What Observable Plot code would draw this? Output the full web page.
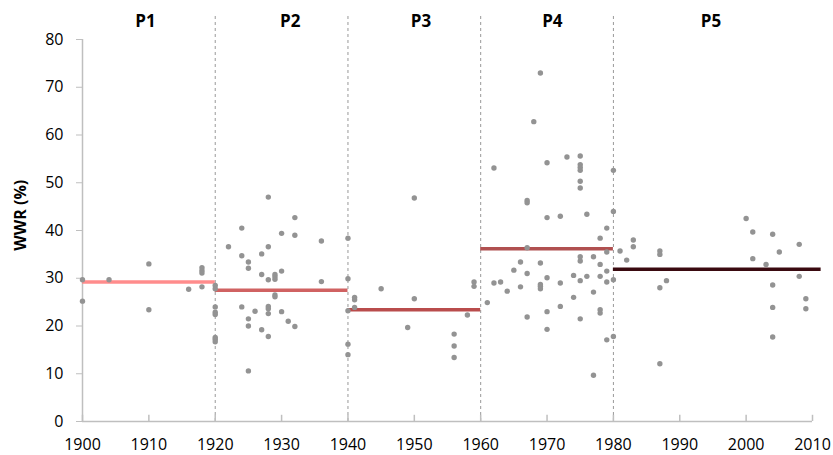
<!DOCTYPE html>
<html>
<head>
<meta charset="utf-8">
<script src="https://cdn.jsdelivr.net/npm/d3@7"></script>
<script src="https://cdn.jsdelivr.net/npm/@observablehq/plot@0.6"></script>
<style>
  body { margin: 0; background: #fff; }
  svg { font-family: "Open Sans", sans-serif; }
</style>
</head>
<body>
<div id="chart"></div>
<script>
// Observations: year and window-to-wall ratio (%)
const years = [
  1900,1900,1904,1910,1910,1916,1918,1918,1918,1918,
  1920,1920,1920,1920,1920,1920,1920,1920,
  1922,1924,1924,1924,1925,1925,1925,1925,1925,1926,1927,1927,1927,
  1928,1928,1928,1928,1928,1928,1928,1929,1929,1929,1929,1929,
  1930,1930,1930,1931,1932,1932,1932,1936,1936,
  1940,1940,1940,1940,1940,
  1941,1941,1941,1945,1949,1950,1950,1956,1956,1956,1958,1959,1959,
  1961,1962,1962,1963,1964,1965,1966,1966,1967,1967,1967,1967,1967,
  1968,1969,1969,1969,1969,1969,1970,1970,1970,1970,1970,
  1972,1972,1972,1973,1974,1974,
  1975,1975,1975,1975,1975,1975,1975,1975,1975,1975,
  1976,1976,1977,1977,1977,1978,1978,1978,1978,1978,
  1979,1979,1979,1979,1979,1980,1980,1980,1980,
  1981,1982,1983,1983,1987,1987,1987,1987,1988,
  2000,2001,2001,2003,2004,2004,2004,2004,2005,2008,2008,2009,2009
];
const wwr = [
  29.7,25.2,29.7,33.0,23.4,27.7,32.2,31.6,31.1,28.2,
  28.5,27.8,24.0,22.9,22.4,17.6,17.2,16.7,
  36.6,40.5,34.7,24.0,33.4,32.1,21.5,20.0,10.6,23.1,35.1,30.8,19.2,
  47.0,36.6,29.7,24.1,23.6,22.6,17.8,30.8,30.3,29.8,26.5,26.1,
  39.4,31.5,23.0,21.0,42.7,39.0,19.9,37.8,29.3,
  38.4,29.9,23.2,16.2,14.0,
  26.0,25.5,23.9,27.8,19.7,25.7,46.8,18.3,15.8,13.4,22.3,29.2,28.3,
  24.9,29.0,53.1,29.2,27.3,31.7,28.2,33.4,46.3,45.8,36.4,31.0,21.9,
  62.8,73.0,33.2,28.7,28.3,27.8,54.2,42.7,30.1,23.0,19.3,
  43.0,29.0,24.1,55.4,30.6,26.0,
  55.6,53.8,53.2,52.6,50.3,48.9,34.5,33.6,29.5,21.5,
  43.4,30.4,34.5,27.1,9.7,38.4,32.9,30.4,23.4,22.7,
  40.5,35.5,31.5,29.2,17.1,52.6,44.0,29.7,17.8,
  35.7,33.8,38.0,36.6,35.7,35.0,28.0,12.1,29.5,
  42.5,39.7,34.1,32.9,39.2,28.6,23.9,17.7,35.5,37.1,30.4,25.7,23.6
];

// Periods
const periodNames = ["P1", "P2", "P3", "P4", "P5"];
const periodStart = [1900, 1920, 1940, 1960, 1980];
const periodEnd   = [1920, 1940, 1960, 1980, 2011.3];
const periodMean  = [29.2, 27.5, 23.4, 36.2, 31.9];
const periodColor = ["#ff8c8c", "#d06262", "#b94c4c", "#b05050", "#3a0a10"];
const labelYear   = [1909.5, 1931.3, 1951, 1970.8, 1994.7];
const dividers    = [1920, 1940, 1960, 1980];

const xTicks = [1900, 1910, 1920, 1930, 1940, 1950, 1960, 1970, 1980, 1990, 2000, 2010];
const yTicks = [0, 10, 20, 30, 40, 50, 60, 70, 80];

const points = years.map((y, i) => ({year: y, wwr: wwr[i]}));
const periods = periodNames.map((p, i) => ({
  name: p, start: periodStart[i], end: periodEnd[i], mean: periodMean[i],
  color: periodColor[i], labelYear: labelYear[i]
}));

const chart = Plot.plot({
  width: 833,
  height: 455,
  marginLeft: 82,
  marginRight: 21,
  marginTop: 39,
  marginBottom: 34,
  style: {fontFamily: "Open Sans, sans-serif", fontSize: "16px", color: "#000", background: "#fff"},
  x: {domain: [1900, 2010]},
  y: {domain: [0, 80]},
  marks: [
    // period dividers
    Plot.ruleX(dividers, {x: d => d, y1: 0, y2: 85, stroke: "#999", strokeWidth: 1, strokeDasharray: "3,3"}),
    // axis lines
    Plot.ruleX([1900], {y1: 0, y2: 80, stroke: "#bfbfbf", strokeWidth: 1.5}),
    Plot.ruleY([0], {x1: 1900, x2: 2010, stroke: "#bfbfbf", strokeWidth: 1.5}),
    // inward x ticks
    Plot.ruleX(xTicks, {x: d => d, y1: 0, y2: 1.3, stroke: "#bfbfbf", strokeWidth: 1.5}),
    Plot.axisX({ticks: xTicks, tickFormat: d => String(d), tickSize: 0, tickPadding: 17, label: null, fontSize: 16}),
    Plot.axisY({ticks: yTicks, tickSize: 6, tickPadding: 13, label: null, stroke: "#bfbfbf", fontSize: 16}),
    // period means
    Plot.ruleY(periods, {y: "mean", x1: "start", x2: "end", stroke: "color", strokeWidth: 3.5}),
    // observations
    Plot.dot(points, {x: "year", y: "wwr", r: 2.7, fill: "#939393", stroke: "none"}),
    // period labels
    Plot.text(periods, {x: "labelYear", y: () => 83.7, text: "name", fontWeight: "bold", fontSize: 17, fill: "#000"}),
    // y label
    Plot.text(["WWR (%)"], {frameAnchor: "left", y: () => 43.2, dx: -62, rotate: -90, text: d => d, fontWeight: "bold", fontSize: 16, fill: "#000", textAnchor: "middle"})
  ]
});
document.getElementById("chart").appendChild(chart);
</script>
</body>
</html>
